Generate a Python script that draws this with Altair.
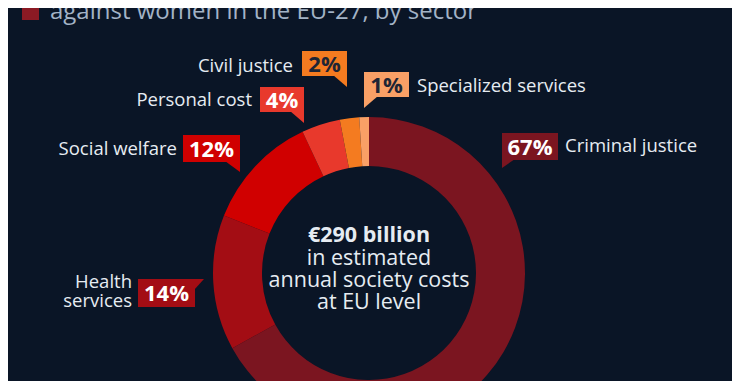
import altair as alt
import pandas as pd

# ---------------- data ----------------
categories = ["Criminal justice", "Health services", "Social welfare",
              "Personal cost", "Civil justice", "Specialized services"]
shares = [67, 14, 12, 4, 2, 1]
label_lines = ["Criminal justice", "Health\nservices", "Social welfare",
               "Personal cost", "Civil justice", "Specialized services"]

title_text = "against women in the EU-27, by sector"
center_lines = ["€290 billion", "in estimated", "annual society costs", "at EU level"]

# ---------------- styles ----------------
BG = "#0a1526"
slice_colors = ["#7b1520", "#a30d14", "#d00000", "#e8392c", "#f47b20", "#f9a066"]
pct_colors = ["#ffffff", "#ffffff", "#ffffff", "#ffffff", "#1e2535", "#1e2535"]
TEXT = "#e6ecf2"
TITLE = "#a3b3c6"
FONT = "Open Sans"

# ---------------- layout (chart pixels) ----------------
CX, CY = 361, 265
R_IN, R_OUT = 107, 156
box_x = [494, 130, 175, 252, 294, 356]
box_x2 = [550, 187, 232, 296, 339, 401]
box_y = [125, 271, 127, 79, 43, 64]
box_y2 = [152, 299, 154, 104, 68, 89]
tail_x = [494, 187, 232, 296, 339, 356]
tail_y = [152, 271, 154, 104, 68, 89]
tail_path = ["M0,-1 L13,-1 L0,8 Z", "M-1,0 L9,0 L-1,11 Z", "M0,-1 L-15,-1 L0,10 Z",
             "M0,-1 L-14,-1 L0,11 Z", "M0,-1 L-14,-1 L0,11 Z", "M0,-1 L14,-1 L0,11 Z"]
name_x = [557, 124, 169, 244, 285, 409]
name_y = [144, 280, 147, 98, 64, 84]
name_side = ["left", "right", "right", "right", "right", "left"]

df = pd.DataFrame({
    "category": categories,
    "share": shares,
    "order": list(range(len(categories))),
    "pct": [f"{s}%" for s in shares],
    "name": label_lines,
    "color": slice_colors,
    "pct_color": pct_colors,
    "bx": box_x, "bx2": box_x2, "by": box_y, "by2": box_y2,
    "tx": tail_x, "ty": tail_y, "tpath": tail_path,
    "nx": name_x, "ny": name_y, "side": name_side,
})
df["pcx"] = (df["bx"] + df["bx2"]) / 2
df["pcy"] = (df["by"] + df["by2"]) / 2 + 8

center_df = pd.DataFrame({
    "text": center_lines,
    "y": [234, 257, 279, 301],
    "bold": [True, False, False, False],
})

base = alt.Chart(df)

donut = base.mark_arc(innerRadius=R_IN, outerRadius=R_OUT).encode(
    theta=alt.Theta("share:Q", stack=True),
    color=alt.Color("color:N", scale=None, legend=None),
    order=alt.Order("order:Q", sort="ascending"),
    x=alt.value(CX),
    y=alt.value(CY),
)

boxes = base.mark_rect().encode(
    x=alt.X("bx:Q", scale=None, axis=None),
    x2="bx2:Q",
    y=alt.Y("by:Q", scale=None, axis=None),
    y2="by2:Q",
    color=alt.Color("color:N", scale=None, legend=None),
)

tails = base.mark_point(filled=True, size=4, opacity=1, strokeWidth=0).encode(
    x=alt.X("tx:Q", scale=None, axis=None),
    y=alt.Y("ty:Q", scale=None, axis=None),
    shape=alt.Shape("tpath:N", scale=None, legend=None),
    color=alt.Color("color:N", scale=None, legend=None),
)

pct_text = base.mark_text(font=FONT, fontSize=22, fontWeight="bold",
                          align="center", baseline="alphabetic").encode(
    x=alt.X("pcx:Q", scale=None, axis=None),
    y=alt.Y("pcy:Q", scale=None, axis=None),
    text="pct:N",
    color=alt.Color("pct_color:N", scale=None, legend=None),
)

names_left = base.transform_filter(alt.datum.side == "left").mark_text(
    font=FONT, fontSize=18.5, align="left", baseline="alphabetic", color=TEXT,
    lineBreak="\n", lineHeight=19).encode(
    x=alt.X("nx:Q", scale=None, axis=None),
    y=alt.Y("ny:Q", scale=None, axis=None),
    text="name:N",
)
names_right = base.transform_filter(alt.datum.side == "right").mark_text(
    font=FONT, fontSize=18.5, align="right", baseline="alphabetic", color=TEXT,
    lineBreak="\n", lineHeight=19).encode(
    x=alt.X("nx:Q", scale=None, axis=None),
    y=alt.Y("ny:Q", scale=None, axis=None),
    text="name:N",
)

center_bold = alt.Chart(center_df).transform_filter(alt.datum.bold).mark_text(
    font=FONT, fontSize=21.5, fontWeight="bold", align="center",
    baseline="alphabetic", color=TEXT).encode(
    x=alt.value(CX), y=alt.Y("y:Q", scale=None, axis=None), text="text:N")
center_reg = alt.Chart(center_df).transform_filter(~alt.datum.bold).mark_text(
    font=FONT, fontSize=21.5, align="center",
    baseline="alphabetic", color=TEXT).encode(
    x=alt.value(CX), y=alt.Y("y:Q", scale=None, axis=None), text="text:N")

title_df = pd.DataFrame({"text": [title_text]})
title_mark = alt.Chart(title_df).mark_text(
    font=FONT, fontSize=24, align="left", baseline="alphabetic", color=TITLE).encode(
    x=alt.value(42), y=alt.value(11), text="text:N")
star_mark = alt.Chart(title_df).mark_text(
    font=FONT, fontSize=12, align="left", baseline="alphabetic", color=TITLE, text="*").encode(
    x=alt.value(477), y=alt.value(3))
title_square = alt.Chart(title_df).mark_rect(color="#8b1a24").encode(
    x=alt.value(14), x2=alt.value(31), y=alt.value(-8), y2=alt.value(12))

chart = alt.layer(
    donut, boxes, tails, pct_text, names_left, names_right,
    center_bold, center_reg, title_square, title_mark, star_mark,
).properties(
    width=724, height=373, padding=0,
    autosize=alt.AutoSizeParams(type="none"),
    background=BG,
).configure_view(stroke=None)

chart.save("out.html", embed_options={"renderer": "svg", "actions": False})
